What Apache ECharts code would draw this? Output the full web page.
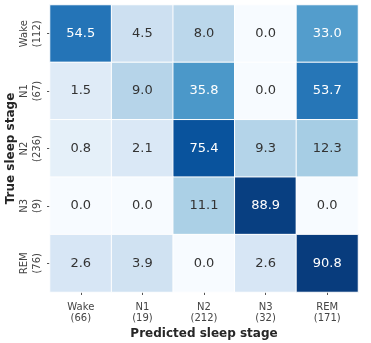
<!DOCTYPE html>
<html><head><meta charset="utf-8">
<script src="https://cdn.jsdelivr.net/npm/echarts@6/dist/echarts.min.js"></script>
<style>html,body{margin:0;padding:0;background:#fff}#c{width:371px;height:343px}</style>
</head><body><div id="c"></div>
<script>
const stages = ['Wake','N1','N2','N3','REM'];
const trueCounts = [112, 67, 236, 9, 76];
const predCounts = [66, 19, 212, 32, 171];
const rowWake = [54.5, 4.5, 8.0, 0.0, 33.0];
const rowN1   = [1.5, 9.0, 35.8, 0.0, 53.7];
const rowN2   = [0.8, 2.1, 75.4, 9.3, 12.3];
const rowN3   = [0.0, 0.0, 11.1, 88.9, 0.0];
const rowREM  = [2.6, 3.9, 0.0, 2.6, 90.8];
const rows = [rowWake, rowN1, rowN2, rowN3, rowREM];

const blues = ['#f7fbff','#deebf7','#c6dbef','#9ecae1','#6baed6','#4292c6','#2171b5','#08519c','#08306b'];
const font = '"DejaVu Sans", sans-serif';
const data = [];
rows.forEach((r, yi) => r.forEach((v, xi) => {
  const n = Math.sqrt(v / 100);
  data.push({value: [xi, yi, v, n], label: {color: n > 0.5 ? '#ffffff' : '#333333'}});
}));

const chart = echarts.init(document.getElementById('c'));
chart.setOption({
  animation: false,
  grid: {left: 50, right: 13, top: 5, bottom: 51, outerBoundsMode: 'none', containLabel: false},
  xAxis: {
    type: 'category',
    data: stages.map((s, i) => s + '\n(' + predCounts[i] + ')'),
    name: 'Predicted sleep stage', nameLocation: 'middle', nameGap: 36, nameMoveOverlap: false,
    nameTextStyle: {fontFamily: font, fontWeight: 'bold', fontSize: 12, color: '#262626'},
    axisLine: {show: false},
    axisTick: {show: true, alignWithLabel: true, length: 3, lineStyle: {color: '#555'}},
    axisLabel: {fontFamily: font, fontSize: 10, color: '#444', lineHeight: 11, margin: 10},
    splitLine: {show: false}
  },
  yAxis: {
    type: 'category', inverse: true,
    data: stages.map((s, i) => s + '\n(' + trueCounts[i] + ')'),
    name: 'True sleep stage', nameLocation: 'middle', nameGap: 33, nameRotate: 90, nameMoveOverlap: false,
    nameTextStyle: {fontFamily: font, fontWeight: 'bold', fontSize: 12, color: '#262626'},
    axisLine: {show: false},
    axisTick: {show: true, alignWithLabel: true, length: 3, lineStyle: {color: '#555'}},
    axisLabel: {fontFamily: font, fontSize: 10, color: '#444', lineHeight: 13, rotate: 90, margin: 6, align: 'center'},
    splitLine: {show: false}
  },
  visualMap: {
    show: false, dimension: 3, min: 0, max: 1, calculable: false,
    inRange: {color: blues}
  },
  series: [{
    type: 'heatmap',
    data: data,
    label: {show: true, fontFamily: font, fontSize: 13,
      formatter: p => p.value[2].toFixed(1)},
    itemStyle: {borderColor: '#ffffff', borderWidth: 1}
  }]
});
</script></body></html>
